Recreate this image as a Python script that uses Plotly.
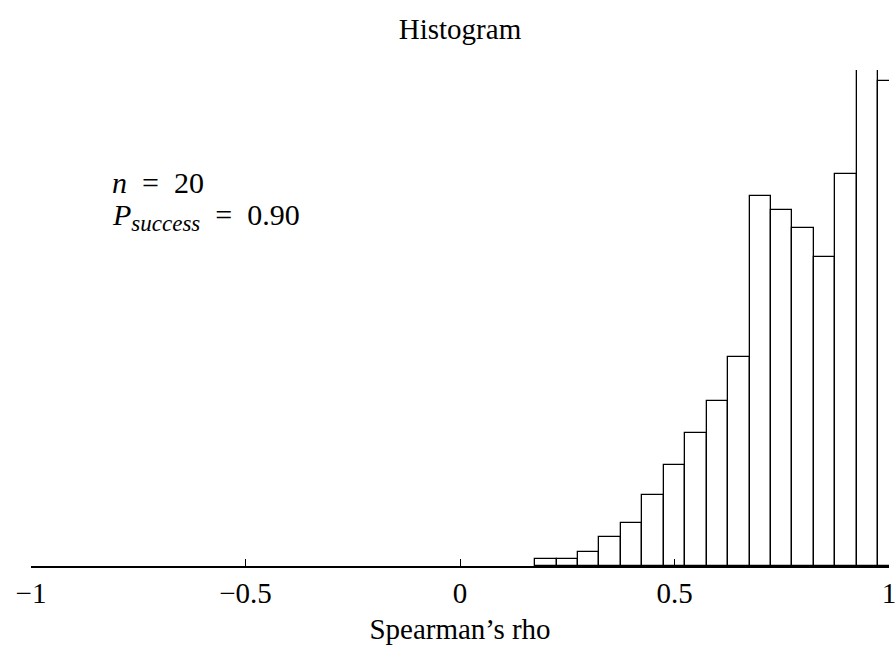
import plotly.graph_objects as go

# Bin centers (width 0.05) and bar heights
bin_centers = [0.20, 0.25, 0.30, 0.35, 0.40, 0.45, 0.50, 0.55, 0.60, 0.65,
               0.70, 0.75, 0.80, 0.85, 0.90, 0.95, 1.00]
bar_heights = [1.0, 1.0, 2.0, 4.0, 6.0, 10.0, 14.1, 18.6, 23.1, 29.2,
               51.8, 49.8, 47.3, 43.3, 54.8, 69.4, 67.8]
bin_width = 0.05

tick_vals = [-1, -0.5, 0, 0.5, 1]
tick_text = ["\u22121", "\u22120.5", "0", "0.5", "1"]

FONT = "Liberation Serif"
W, H = 896, 656
ML, MR, MT, MB = 31, 7, 70, 90
PW, PH = W - ML - MR, H - MT - MB

fig = go.Figure()
fig.add_trace(go.Bar(
    x=bin_centers, y=bar_heights, width=[bin_width] * len(bin_centers),
    marker=dict(color="white", line=dict(color="black", width=1.3)),
    showlegend=False, hoverinfo="skip",
))

fig.update_layout(
    width=W, height=H,
    margin=dict(l=ML, r=MR, t=MT, b=MB, autoexpand=False),
    paper_bgcolor="white", plot_bgcolor="white",
    bargap=0,
    title=dict(text="Histogram", x=0.5, xanchor="center", xref="paper",
               y=1 - 29 / H, yref="container", yanchor="middle",
               font=dict(family=FONT, size=29, color="black")),
    font=dict(family=FONT, color="black"),
)

fig.update_xaxes(
    range=[-1, 1], tickvals=tick_vals, ticktext=tick_text, automargin=False,
    ticklabeloverflow="allow",
    ticks="inside", ticklen=7, tickwidth=1.3, tickcolor="black",
    showline=True, linecolor="black", linewidth=1.5,
    showgrid=False, zeroline=False,
    tickfont=dict(family=FONT, size=29, color="black"),
    title=dict(text="Spearman\u2019s rho", font=dict(family=FONT, size=29, color="black"), standoff=11),
)
fig.update_yaxes(
    range=[0, max(bar_heights)], visible=False, showgrid=False, zeroline=False,
)

def px_x(px):
    return (px - ML) / PW

def px_y(py):
    return (H - MB - py) / PH

SP = "\u2002"
fig.add_annotation(
    x=px_x(110), y=px_y(182), xref="paper", yref="paper", xanchor="left", yanchor="middle",
    text=f"<i>n</i>{SP}={SP}20", showarrow=False, align="left",
    font=dict(family=FONT, size=30, color="black"),
)
fig.add_annotation(
    x=px_x(110), y=px_y(217), xref="paper", yref="paper", xanchor="left", yanchor="middle",
    text=f"<i>P</i><sub><span style='font-size:23px'><i>success</i></span></sub>{SP}={SP}0.90",
    showarrow=False, align="left",
    font=dict(family=FONT, size=30, color="black"),
)

fig.write_html("out.html")
